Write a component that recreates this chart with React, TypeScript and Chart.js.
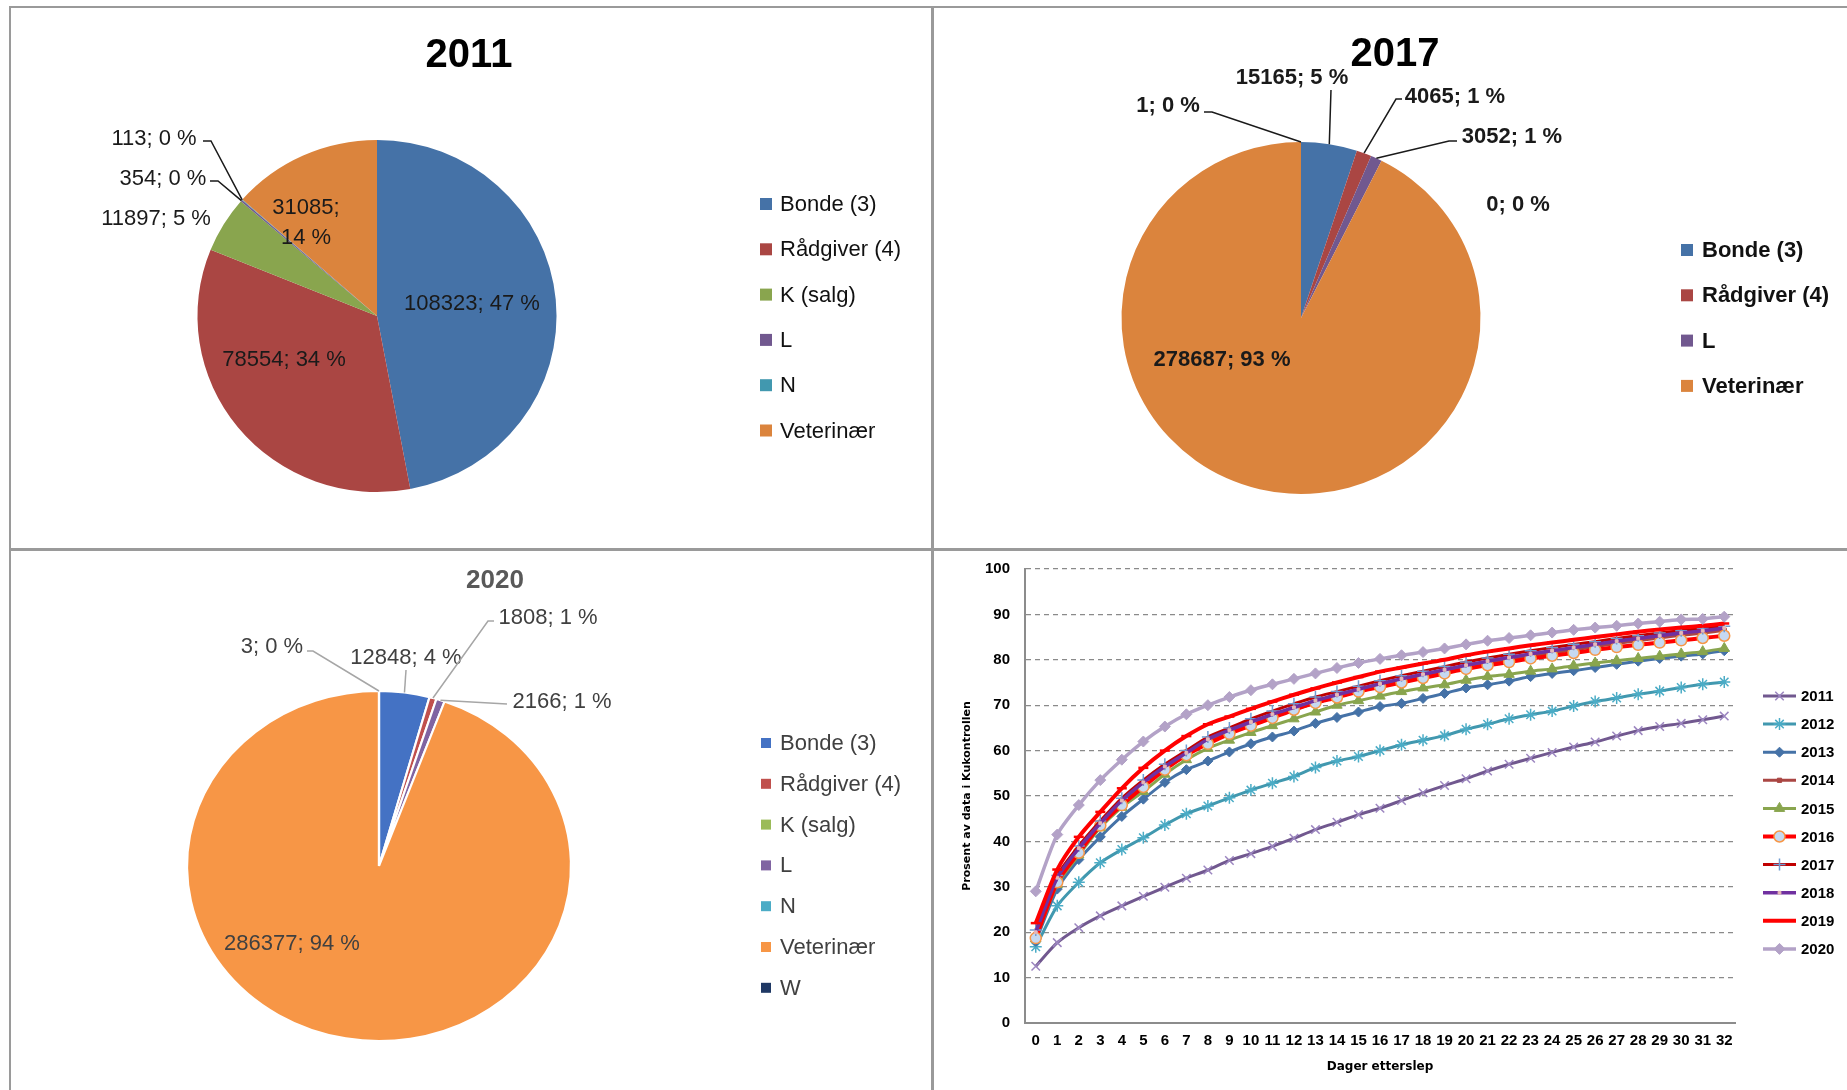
import React, { useEffect, useRef } from "react";
import { Chart, registerables } from "chart.js";
import { drawPoint } from "chart.js/helpers";

Chart.register(...registerables);

const FONT = "'Liberation Sans', Arial, Helvetica, sans-serif";
const FONT_WIDE = "'DejaVu Sans', Verdana, sans-serif";

// ---------------- data: pies ----------------
const cats2011 = ["Bonde (3)", "Rådgiver (4)", "K (salg)", "L", "N", "Veterinær"];
const vals2011 = [108323, 78554, 11897, 354, 113, 31085];
const cols2011 = ["#4572A7", "#AA4643", "#89A54E", "#71588F", "#4198AF", "#DB843D"];

const cats2017 = ["Bonde (3)", "Rådgiver (4)", "L", "N", "Veterinær", "W"];
const vals2017 = [15165, 4065, 3052, 0, 278687, 1];
const cols2017 = ["#4572A7", "#AA4643", "#71588F", "#4198AF", "#DB843D", "#1F497D"];

const cats2020 = ["Bonde (3)", "Rådgiver (4)", "K (salg)", "L", "N", "Veterinær", "W"];
const vals2020 = [12848, 1808, 0, 2166, 0, 286377, 3];
const cols2020 = ["#4472C4", "#C0504D", "#9BBB59", "#8064A2", "#4BACC6", "#F79646", "#1F3864"];

// ---------------- data: lines ----------------
const days = ["0","1","2","3","4","5","6","7","8","9","10","11","12","13","14","15","16","17","18","19","20","21","22","23","24","25","26","27","28","29","30","31","32"];
const yTicks = [0, 10, 20, 30, 40, 50, 60, 70, 80, 90, 100];
const s2011 = [12.5,17.7,21.0,23.6,25.8,27.9,29.9,31.9,33.7,35.8,37.3,38.9,40.7,42.6,44.2,45.9,47.3,49.0,50.7,52.3,53.8,55.5,57.0,58.3,59.6,60.8,61.9,63.2,64.4,65.3,66.0,66.8,67.6];
const s2012 = [16.8,25.8,31.0,35.3,38.2,40.8,43.6,46.1,47.8,49.6,51.3,52.8,54.3,56.3,57.7,58.7,60.0,61.3,62.3,63.3,64.7,65.8,67.0,67.9,68.7,69.8,70.8,71.6,72.4,73.1,73.9,74.6,75.1];
const s2013 = [18.0,29.5,36.0,41.0,45.5,49.3,53.0,55.8,57.7,59.7,61.5,63.0,64.3,66.0,67.3,68.5,69.7,70.4,71.5,72.6,73.8,74.5,75.3,76.3,77.0,77.6,78.3,79.0,79.7,80.3,80.8,81.3,82.0];
const s2014 = [19.5,31.5,38.0,43.5,48.5,52.5,56.0,59.0,62.0,64.0,66.0,67.5,69.0,70.5,71.8,73.0,74.2,75.3,76.3,77.3,78.3,79.2,80.0,80.8,81.5,82.2,82.9,83.6,84.2,84.8,85.4,85.9,86.5];
const s2015 = [18.5,30.5,37.0,43.0,47.5,51.0,54.8,58.0,60.5,62.3,64.0,65.5,67.0,68.5,70.0,71.0,72.0,73.0,73.8,74.5,75.5,76.3,76.8,77.5,78.0,78.7,79.3,79.8,80.3,80.8,81.3,81.8,82.5];
const s2016 = [18.7,31.0,37.5,43.5,48.0,52.0,55.8,59.0,61.5,63.7,65.5,67.2,69.0,70.5,71.7,73.0,74.0,75.0,76.0,77.0,78.0,78.8,79.5,80.3,80.9,81.5,82.2,82.8,83.3,83.8,84.3,84.8,85.3];
const s2017 = [20.5,32.5,39.0,44.5,49.5,53.5,57.0,60.0,63.0,65.0,67.0,68.7,70.3,71.8,73.0,74.2,75.4,76.5,77.5,78.5,79.5,80.4,81.2,82.0,82.7,83.4,84.0,84.7,85.3,85.9,86.4,86.9,87.4];
const s2018 = [20.0,32.0,38.5,44.0,49.0,53.0,56.5,59.5,62.5,64.5,66.3,68.0,69.5,71.0,72.3,73.5,74.7,75.8,76.8,77.8,78.8,79.7,80.5,81.3,82.0,82.7,83.4,84.1,84.7,85.3,85.9,86.4,87.0];
const s2019 = [22.0,33.8,41.0,46.5,51.7,56.2,60.0,63.2,65.8,67.5,69.2,70.8,72.3,73.7,75.0,76.2,77.4,78.3,79.2,80.0,81.0,81.8,82.5,83.2,83.8,84.4,85.0,85.6,86.2,86.7,87.1,87.5,88.0];
const s2020 = [29.0,41.5,48.0,53.5,58.0,62.0,65.3,68.0,70.0,71.8,73.3,74.6,75.8,77.0,78.2,79.3,80.2,81.0,81.7,82.5,83.4,84.2,84.8,85.4,86.0,86.6,87.1,87.5,88.0,88.4,88.9,89.0,89.5];
const seriesNames = ["2011","2012","2013","2014","2015","2016","2017","2018","2019","2020"];
const seriesValues = [s2011, s2012, s2013, s2014, s2015, s2016, s2017, s2018, s2019, s2020];

// ---------------- styles ----------------
const seriesStyles = [
  { line: "#71588F", width: 3, style: "crossRot", r: 6, fill: "#71588F", stroke: "#9C86C0", bw: 1.5 },
  { line: "#4198AF", width: 3, style: "star", r: 6, fill: "#4198AF", stroke: "#4BACC6", bw: 1.5 },
  { line: "#4572A7", width: 3, style: "rectRot", r: 5, fill: "#4572A7", stroke: "#4572A7", bw: 1 },
  { line: "#AA4643", width: 3, style: "rect", r: 3, fill: "#AA4643", stroke: "#AA4643", bw: 1 },
  { line: "#89A54E", width: 3, style: "triangle", r: 6, fill: "#89A54E", stroke: "#89A54E", bw: 1 },
  { line: "#FF0000", width: 4, style: "circle", r: 5.5, fill: "#C6D9F1", stroke: "#F79646", bw: 1.5 },
  { line: "#C00000", width: 3, style: "cross", r: 6, fill: "#6F9BD1", stroke: "#6F9BD1", bw: 1.5 },
  { line: "#7030A0", width: 3.5, style: "rect", r: 2, fill: "#E6B9B8", stroke: "#E6B9B8", bw: 1 },
  { line: "#FF0000", width: 4, style: "line", r: 5, fill: "#FF0000", stroke: "#FF0000", bw: 2.5 },
  { line: "#B3A2C7", width: 3.5, style: "rectRot", r: 5.5, fill: "#B3A2C7", stroke: "#B3A2C7", bw: 1 },
];

function percents(values: number[]): number[] {
  const total = values.reduce((a, b) => a + b, 0);
  const raw = values.map((v) => (v / total) * 100);
  const fl = raw.map((r) => Math.floor(r));
  const rest = 100 - fl.reduce((a, b) => a + b, 0);
  const ord = raw.map((r, i) => [r - Math.floor(r), i]).sort((a, b) => b[0] - a[0]);
  for (let k = 0; k < rest; k++) fl[ord[k][1]]++;
  return fl;
}

type PieLabel = { i: number; x: number; y: number; split?: boolean; leader?: [number, number]; hook?: number };
type PieSpec = {
  left: number; top: number; width: number; height: number;
  cats: string[]; values: number[]; colors: string[];
  border: number; borderColor: string;
  cx: number; cy: number; r: number; sx: number;
  title: { text: string; x: number; y: number; size: number; color: string };
  dataFont: { size: number; weight: string; color: string };
  leaderColor: string;
  dataLabels: PieLabel[];
  legend: { items: number[]; boxX: number; box: number; textX: number; y0: number; dy: number; size: number; weight: string; color: string };
};

function makePie(canvas: HTMLCanvasElement, s: PieSpec) {
  const ox = s.left, oy = s.top;
  const cxL = s.cx - ox, cyL = s.cy - oy;
  const half = s.r + 10;
  const pct = percents(s.values);
  const plugin = {
    id: "pieExtras",
    beforeDatasetsDraw(chart: any) {
      const ctx = chart.ctx;
      ctx.save();
      ctx.translate(cxL, cyL);
      ctx.scale(s.sx, 1);
      ctx.translate(-cxL, -cyL);
    },
    afterDatasetsDraw(chart: any) {
      const ctx = chart.ctx;
      ctx.restore();
      const meta = chart.getDatasetMeta(0);
      ctx.save();
      ctx.font = `${s.dataFont.weight} ${s.dataFont.size}px ${FONT}`;
      ctx.fillStyle = s.dataFont.color;
      ctx.strokeStyle = s.leaderColor;
      ctx.lineWidth = 1.5;
      ctx.textAlign = "center";
      ctx.textBaseline = "middle";
      for (const L of s.dataLabels) {
        const v = s.values[L.i];
        const x = L.x - ox, y = L.y - oy;
        if (L.split) {
          const lh = s.dataFont.size * 1.35;
          ctx.fillText(`${v};`, x, y - lh / 2);
          ctx.fillText(`${pct[L.i]} %`, x, y + lh / 2);
        } else {
          ctx.fillText(`${v}; ${pct[L.i]} %`, x, y);
        }
        if (L.leader) {
          const arc: any = meta.data[L.i];
          const mid = (arc.startAngle + arc.endAngle) / 2;
          const ex = arc.x + arc.outerRadius * Math.cos(mid) * s.sx;
          const ey = arc.y + arc.outerRadius * Math.sin(mid);
          let px = L.leader[0] - ox;
          const py = L.leader[1] - oy;
          ctx.beginPath();
          ctx.moveTo(px, py);
          if (L.hook) { px += L.hook; ctx.lineTo(px, py); }
          ctx.lineTo(ex, ey);
          ctx.stroke();
        }
      }
      // title
      ctx.font = `bold ${s.title.size}px ${FONT}`;
      ctx.fillStyle = s.title.color;
      ctx.fillText(s.title.text, s.title.x - ox, s.title.y - oy);
      // legend
      const lg = s.legend;
      ctx.font = `${lg.weight} ${lg.size}px ${FONT}`;
      ctx.textAlign = "left";
      lg.items.forEach((idx, k) => {
        const y = lg.y0 + k * lg.dy - oy;
        ctx.fillStyle = s.colors[idx];
        ctx.fillRect(lg.boxX - ox, y - lg.box / 2, lg.box, lg.box);
        ctx.fillStyle = lg.color;
        ctx.fillText(s.cats[idx], lg.textX - ox, y + 1);
      });
      ctx.restore();
    },
  };
  return new Chart(canvas, {
    type: "pie",
    data: {
      labels: s.cats,
      datasets: [{
        data: s.values,
        backgroundColor: s.colors,
        borderWidth: s.border,
        borderColor: s.borderColor,
        radius: s.r,
        clip: false,
      } as any],
    },
    options: {
      responsive: false,
      animation: false,
      events: [],
      layout: { padding: { left: cxL - half, right: s.width - cxL - half, top: cyL - half, bottom: s.height - cyL - half } },
      plugins: { legend: { display: false }, tooltip: { enabled: false }, title: { display: false } },
    } as any,
    plugins: [plugin as any],
  });
}

// ---------- panel geometry (page coordinates) ----------
const P1 = { left: 12, top: 9, width: 919, height: 539 };
const P2 = { left: 934, top: 9, width: 913, height: 539 };
const P3 = { left: 12, top: 551, width: 919, height: 539 };
const P4 = { left: 934, top: 543, width: 913, height: 547 };

const pie2011: PieSpec = {
  ...P1,
  cats: cats2011, values: vals2011, colors: cols2011,
  border: 0, borderColor: "#ffffff",
  cx: 377, cy: 316, r: 176, sx: 1.02,
  title: { text: "2011", x: 469, y: 56, size: 40, color: "#000" },
  dataFont: { size: 22, weight: "normal", color: "#1a1a1a" },
  leaderColor: "#1a1a1a",
  dataLabels: [
    { i: 0, x: 472, y: 304 },
    { i: 1, x: 284, y: 360 },
    { i: 2, x: 156, y: 219 },
    { i: 3, x: 163, y: 179, leader: [210, 181], hook: 8 },
    { i: 4, x: 154, y: 139, leader: [203, 141], hook: 8 },
    { i: 5, x: 306, y: 223, split: true },
  ],
  legend: { items: [0, 1, 2, 3, 4, 5], boxX: 760, box: 12, textX: 780, y0: 204, dy: 45.3, size: 22, weight: "normal", color: "#111" },
};

const pie2017: PieSpec = {
  ...P2,
  cats: cats2017, values: vals2017, colors: cols2017,
  border: 0, borderColor: "#ffffff",
  cx: 1301, cy: 318, r: 176, sx: 1.02,
  title: { text: "2017", x: 1395, y: 55, size: 40, color: "#000" },
  dataFont: { size: 22, weight: "bold", color: "#1a1a1a" },
  leaderColor: "#1a1a1a",
  dataLabels: [
    { i: 0, x: 1292, y: 78, leader: [1331, 90] },
    { i: 1, x: 1455, y: 97, leader: [1402, 99], hook: -6 },
    { i: 2, x: 1512, y: 137, leader: [1457, 141], hook: -8 },
    { i: 3, x: 1518, y: 205 },
    { i: 4, x: 1222, y: 360 },
    { i: 5, x: 1168, y: 106, leader: [1204, 112], hook: 8 },
  ],
  legend: { items: [0, 1, 2, 4], boxX: 1681, box: 12, textX: 1702, y0: 250, dy: 45.3, size: 22, weight: "bold", color: "#111" },
};

const pie2020: PieSpec = {
  ...P3,
  cats: cats2020, values: vals2020, colors: cols2020,
  border: 2, borderColor: "#ffffff",
  cx: 379, cy: 866, r: 175, sx: 1.097,
  title: { text: "2020", x: 495, y: 581, size: 26, color: "#595959" },
  dataFont: { size: 22, weight: "normal", color: "#404040" },
  leaderColor: "#a6a6a6",
  dataLabels: [
    { i: 0, x: 406, y: 658, leader: [406, 670] },
    { i: 1, x: 548, y: 618, leader: [494, 621], hook: -6 },
    { i: 3, x: 562, y: 702, leader: [507, 704] },
    { i: 5, x: 292, y: 944 },
    { i: 6, x: 272, y: 647, leader: [307, 651], hook: 6 },
  ],
  legend: { items: [0, 1, 2, 3, 4, 5, 6], boxX: 761, box: 10, textX: 780, y0: 743, dy: 40.8, size: 22, weight: "normal", color: "#404040" },
};

function makeLine(canvas: HTMLCanvasElement) {
  const ox = P4.left, oy = P4.top;
  const area = { left: 1025 - ox, right: 1735 - ox, top: 569 - oy, bottom: 1023 - oy };
  const legend = { x0: 1763 - ox, x1: 1796 - ox, tx: 1801 - ox, y0: 696 - oy, dy: 28.1 };
  const datasets = seriesNames.map((name, k) => {
    const st = seriesStyles[k];
    return {
      label: name,
      data: seriesValues[k],
      borderColor: st.line,
      backgroundColor: st.line,
      borderWidth: st.width,
      pointStyle: st.style,
      pointRadius: st.r,
      pointBackgroundColor: st.fill,
      pointBorderColor: st.stroke,
      pointBorderWidth: st.bw,
      tension: 0.25,
      order: seriesNames.length - k,
      clip: false,
    };
  });
  const legendPlugin = {
    id: "lineLegend",
    afterDraw(chart: any) {
      const ctx = chart.ctx;
      chart.data.datasets.forEach((ds: any, k: number) => {
        const y = legend.y0 + k * legend.dy;
        ctx.save();
        ctx.strokeStyle = ds.borderColor;
        ctx.lineWidth = ds.borderWidth;
        ctx.beginPath();
        ctx.moveTo(legend.x0, y);
        ctx.lineTo(legend.x1, y);
        ctx.stroke();
        ctx.fillStyle = ds.pointBackgroundColor;
        ctx.strokeStyle = ds.pointBorderColor;
        ctx.lineWidth = ds.pointBorderWidth;
        drawPoint(ctx, { pointStyle: ds.pointStyle, radius: ds.pointRadius, rotation: 0, borderWidth: ds.pointBorderWidth } as any, (legend.x0 + legend.x1) / 2, y);
        ctx.fillStyle = "#000";
        ctx.font = `bold 15px ${FONT}`;
        ctx.textAlign = "left";
        ctx.textBaseline = "middle";
        ctx.fillText(ds.label, legend.tx, y + 1);
        ctx.restore();
      });
    },
  };
  return new Chart(canvas, {
    type: "line",
    data: { labels: days, datasets: datasets as any },
    options: {
      responsive: false,
      animation: false,
      events: [],
      layout: { padding: { left: 0, right: P4.width - area.right, top: area.top, bottom: 0 } },
      plugins: { legend: { display: false }, tooltip: { enabled: false } },
      scales: {
        x: {
          type: "category",
          offset: true,
          grid: { display: false, drawTicks: false },
          border: { display: true, color: "#8c8c8c", width: 2 },
          ticks: { font: { family: FONT, size: 15, weight: "bold" }, color: "#000", padding: 9, maxRotation: 0, autoSkip: false },
          title: { display: true, text: "Dager etterslep", color: "#000", font: { family: FONT_WIDE, size: 12, weight: "bold" }, padding: { top: 0, bottom: 16 } },
          afterFit: (sc: any) => { sc.height = P4.height - area.bottom; },
        },
        y: {
          min: yTicks[0],
          max: yTicks[yTicks.length - 1],
          afterBuildTicks: (sc: any) => { sc.ticks = yTicks.map((v) => ({ value: v })); },
          grid: { color: "#8a8a8a", lineWidth: 1.2, drawTicks: false },
          border: { display: true, color: "#8c8c8c", width: 2, dash: [5, 4] },
          ticks: { font: { family: FONT, size: 15, weight: "bold" }, color: "#000", padding: 15 },
          title: { display: true, text: "Prosent av data i Kukontrollen", color: "#000", font: { family: FONT_WIDE, size: 11, weight: "bold" }, padding: { top: 27, bottom: 0 } },
          afterFit: (sc: any) => { sc.width = area.left; },
        },
      },
    } as any,
    plugins: [legendPlugin as any],
  });
}

function ChartBox({ box, make }: { box: { left: number; top: number; width: number; height: number }; make: (c: HTMLCanvasElement) => Chart }) {
  const ref = useRef<HTMLCanvasElement>(null);
  useEffect(() => {
    const chart = make(ref.current as HTMLCanvasElement);
    return () => chart.destroy();
  }, []);
  return (
    <div style={{ position: "absolute", left: box.left, top: box.top, width: box.width, height: box.height }}>
      <canvas ref={ref} width={box.width} height={box.height} style={{ width: box.width, height: box.height, display: "block" }} />
    </div>
  );
}

const lineColor = "#9a9a9a";

export default function App() {
  return (
    <div style={{ position: "absolute", left: 0, top: 0, width: 1847, height: 1090, background: "#fff", overflow: "hidden" }}>
      <div style={{ position: "absolute", left: 9, top: 6, width: 1838, height: 2, background: lineColor }} />
      <div style={{ position: "absolute", left: 9, top: 6, width: 2, height: 1084, background: lineColor }} />
      <div style={{ position: "absolute", left: 931, top: 6, width: 3, height: 1084, background: lineColor }} />
      <div style={{ position: "absolute", left: 9, top: 548, width: 1838, height: 3, background: lineColor }} />
      <ChartBox box={P1} make={(c) => makePie(c, pie2011)} />
      <ChartBox box={P2} make={(c) => makePie(c, pie2017)} />
      <ChartBox box={P3} make={(c) => makePie(c, pie2020)} />
      <ChartBox box={P4} make={makeLine} />
    </div>
  );
}
